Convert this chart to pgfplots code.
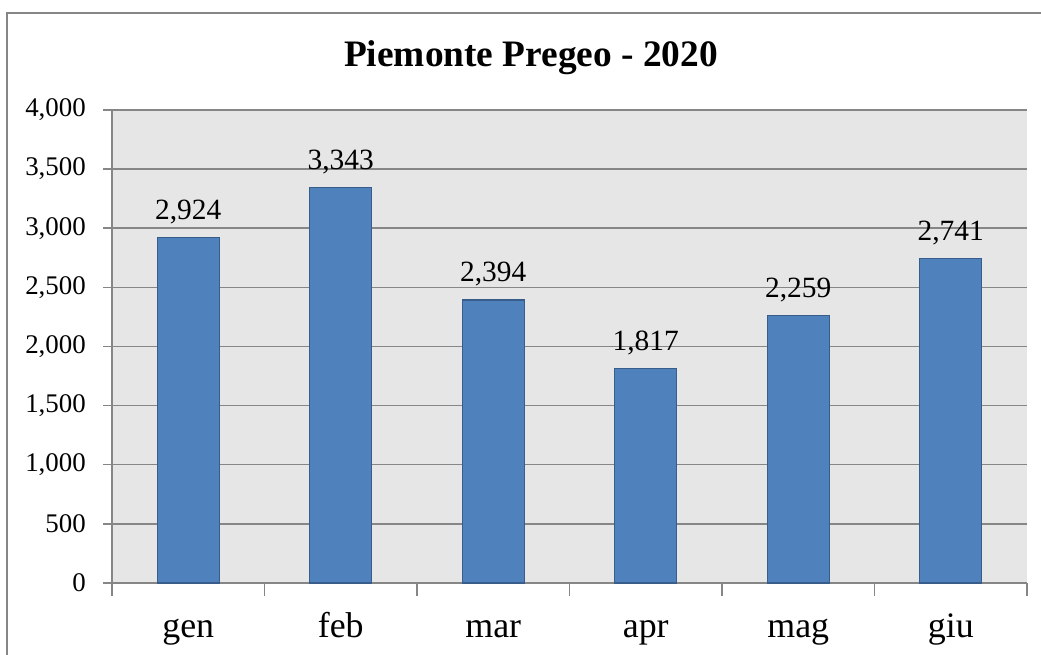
\documentclass[border=0pt]{standalone}
\usepackage{fontspec}
\setmainfont{Liberation Serif}
\usepackage{pgfplots}
\pgfplotsset{compat=1.18}
\definecolor{bggray}{RGB}{230,230,230}
\definecolor{gridgray}{RGB}{134,134,134}
\definecolor{barblue}{RGB}{79,129,189}
\definecolor{baredge}{RGB}{56,93,138}
\definecolor{framegray}{RGB}{134,134,134}
\begin{document}
\begin{tikzpicture}[x=1bp,y=1bp]
\useasboundingbox (0,0) rectangle (1041,655);
\clip (0,0) rectangle (1041,655);
\draw[framegray, line width=1.5bp] (7,-20) rectangle (1056,642);
\node[font=\fontsize{37.5}{40}\selectfont\bfseries, anchor=base] at (531,588) {Piemonte Pregeo - 2020};
\begin{axis}[
  at={(112bp,72bp)}, anchor=south west,
  scale only axis, width=915bp, height=473bp,
  xmin=-0.5, xmax=5.5, ymin=0, ymax=4000,
  axis x line*=bottom, axis y line*=left,
  axis background/.style={fill=bggray},
  axis line style={gridgray, line width=1.5bp},
  ytick={0,500,...,4000},
  xtick={0,...,5}, xticklabels={gen,feb,mar,apr,mag,giu},
  minor xtick={-0.5,0.5,...,5.5},
  tick align=outside,
  major tick length=9bp, minor tick length=13bp,
  major x tick style={draw=none},
  minor x tick style={gridgray, line width=1.5bp},
  major y tick style={gridgray, line width=1.5bp},
  ymajorgrids, major grid style={gridgray, line width=1.5bp},
  /pgf/number format/.cd, 1000 sep={,}, assume math mode=true, /pgfplots/.cd,
  yticklabel style={font=\fontsize{27}{30}\selectfont, anchor=east, inner sep=0pt, xshift=-17bp},
  xticklabel style={font=\fontsize{36}{40}\selectfont, anchor=base, inner sep=0pt, yshift=-46bp},
  ybar, bar width=0.407,
  nodes near coords,
  every node near coord/.append style={font=\fontsize{29.5}{32}\selectfont, anchor=base, inner sep=0pt, yshift=18bp, black},
  clip=false,
]
\addplot[fill=barblue, draw=baredge, line width=1.2bp] coordinates {(0,2924) (1,3343) (2,2394) (3,1817) (4,2259) (5,2741)};
\end{axis}
\end{tikzpicture}
\end{document}
